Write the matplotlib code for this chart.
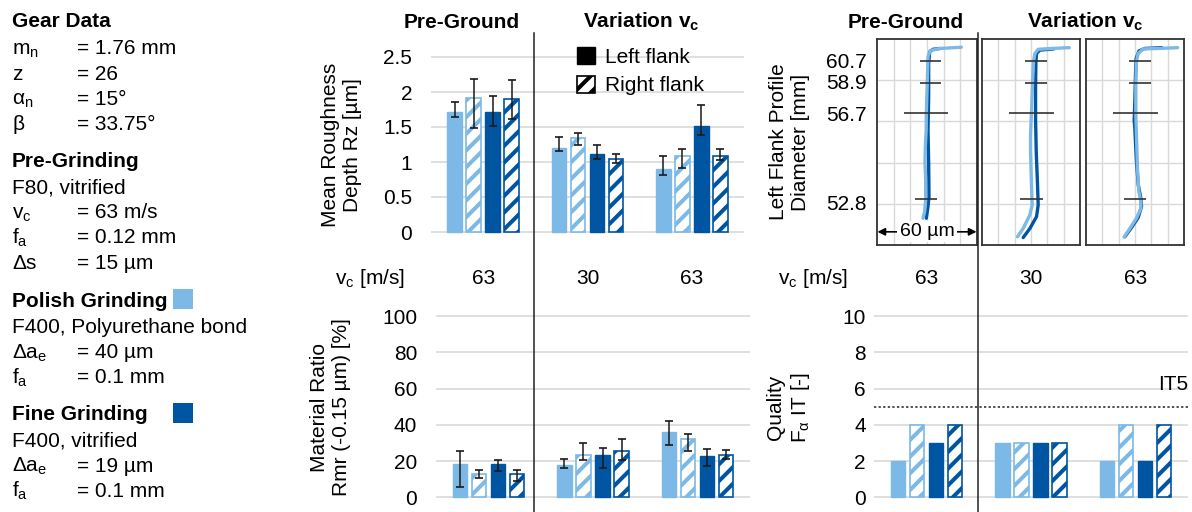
import matplotlib
matplotlib.use('Agg')
import matplotlib.pyplot as plt
from matplotlib.patches import Patch, Rectangle
from matplotlib.lines import Line2D
from matplotlib.transforms import blended_transform_factory
import numpy as np

plt.rcParams['font.family'] = ['Liberation Sans', 'DejaVu Sans']
plt.rcParams['mathtext.fontset'] = 'custom'
plt.rcParams['mathtext.rm'] = 'Liberation Sans'
plt.rcParams['mathtext.it'] = 'Liberation Sans:italic'
plt.rcParams['mathtext.bf'] = 'Liberation Sans:bold'
plt.rcParams['hatch.linewidth'] = 2.9

# ---------------- data ----------------
vc_labels = ['63', '30', '63']
legend_labels = ['Left flank', 'Right flank']

# Mean roughness depth Rz [um]  (bar value, lower / upper end of error bar)
rz_pl = [1.72, 1.20, 0.90]; rz_pl_lo = [1.64, 1.16, 0.81]; rz_pl_hi = [1.86, 1.36, 1.08]
rz_pr = [1.91, 1.34, 1.09]; rz_pr_lo = [1.49, 1.25, 0.92]; rz_pr_hi = [2.19, 1.41, 1.18]
rz_fl = [1.72, 1.11, 1.52]; rz_fl_lo = [1.52, 1.04, 1.39]; rz_fl_hi = [1.95, 1.25, 1.81]
rz_fr = [1.90, 1.04, 1.09]; rz_fr_lo = [1.62, 0.99, 1.03]; rz_fr_hi = [2.17, 1.11, 1.18]

# Material ratio Rmr(-0.15 um) [%]
rmr_pl = [18.4, 17.8, 36.2]; rmr_pl_lo = [5.9, 16.0, 28.7]; rmr_pl_hi = [25.6, 21.3, 42.3]
rmr_pr = [12.7, 23.5, 32.2]; rmr_pr_lo = [10.5, 20.4, 25.4]; rmr_pr_hi = [15.1, 29.8, 34.7]
rmr_fl = [18.2, 23.5, 23.0]; rmr_fl_lo = [14.5, 16.0, 17.1]; rmr_fl_hi = [20.6, 27.2, 26.8]
rmr_fr = [12.7, 25.4, 23.5]; rmr_fr_lo = [9.0, 20.4, 21.1]; rmr_fr_hi = [15.1, 32.0, 26.3]

# Quality F_alpha IT [-]
q_pl = [2, 3, 2]
q_pr = [4, 3, 4]
q_fl = [3, 3, 2]
q_fr = [4, 3, 4]
it_limit = 5

# Left flank profiles (x in um inside 60 um window, y = position along profile)
diam_labels = ['60.7', '58.9', '56.7', '52.8']
diam_label_pos = [4.47, 3.96, 3.20, 1.03]
diam_err_pos = [4.47, 3.92, 3.21, 1.11]
diam_err_center = [[32.1, 32.1, 29.4, 29.4], [33.0, 33.0, 30.3, 30.2], [33.0, 33.0, 30.3, 30.0]]
diam_err_half = [[6.5, 6.5, 13.2, 6.6], [6.85, 6.85, 13.7, 6.9], [6.85, 6.85, 13.5, 6.9]]

prof_light_y = [
    [0.65, 0.81, 1.09, 1.58, 2.0, 2.39, 2.8, 3.2, 3.6, 4.0, 4.57, 4.72, 4.77, 4.80],
    [0.20, 0.40, 0.73, 0.97, 1.46, 2.27, 2.67, 3.24, 3.88, 4.45, 4.65, 4.75, 4.77, 4.79],
    [0.19, 0.40, 0.65, 0.89, 1.05, 1.29, 1.86, 2.67, 3.16, 3.88, 4.45, 4.65, 4.76, 4.77, 4.79],
]
prof_light_x = [
    [27.6, 28.6, 29.2, 29.2, 28.8, 29.0, 29.5, 29.6, 29.9, 30.2, 30.6, 32.0, 37.6, 50.6],
    [21.7, 25.2, 29.3, 30.7, 30.3, 29.7, 29.7, 30.3, 30.9, 31.5, 32.4, 34.4, 42.6, 53.4],
    [23.3, 26.8, 30.9, 33.6, 33.6, 32.4, 31.5, 30.9, 30.5, 30.5, 30.9, 31.9, 35.0, 44.2, 56.1],
]
prof_dark_y = [
    [0.65, 0.93, 1.17, 1.98, 2.79, 3.6, 4.41, 4.69, 4.75, 4.77],
    [0.18, 0.40, 0.69, 0.97, 1.46, 2.27, 3.07, 3.88, 4.45, 4.65, 4.73, 4.76],
    [0.20, 0.42, 0.66, 0.93, 1.13, 1.46, 2.02, 2.83, 3.03, 3.48, 4.13, 4.53, 4.71, 4.77, 4.79],
]
prof_dark_x = [
    [29.6, 30.6, 31.2, 31.0, 30.6, 31.0, 31.0, 31.6, 33.6, 37.6],
    [25.2, 29.3, 33.4, 34.4, 34.0, 33.2, 32.8, 32.8, 33.0, 33.4, 35.4, 44.0],
    [23.8, 27.8, 31.9, 34.0, 33.6, 32.0, 30.9, 29.9, 29.5, 29.9, 30.3, 30.7, 32.4, 36.0, 46.3],
]

# Left info panel text (symbol, value)
gear_rows = [('m$_\\mathrm{n}$', '= 1.76 mm'), ('z', '= 26'), ('α$_\\mathrm{n}$', '= 15°'), ('β', '= 33.75°')]
pre_rows = [('F80, vitrified', None), ('v$_\\mathrm{c}$', '= 63 m/s'), ('f$_\\mathrm{a}$', '= 0.12 mm'), ('Δs', '= 15 µm')]
polish_rows = [('F400, Polyurethane bond', None), ('Δa$_\\mathrm{e}$', '= 40 µm'), ('f$_\\mathrm{a}$', '= 0.1 mm')]
fine_rows = [('F400, vitrified', None), ('Δa$_\\mathrm{e}$', '= 19 µm'), ('f$_\\mathrm{a}$', '= 0.1 mm')]

# ---------------- style ----------------
W, H = 1192, 512
FS = 15
LIGHT = '#7DB9E6'
DARK = '#0055A2'
GRID = '#D9D9D9'
ERR = '#1A1A1A'
OFFS = np.array([-1.5, -0.5, 0.5, 1.5]) * 0.182
BW = 0.138

fig = plt.figure(figsize=(W / 100, H / 100), dpi=100)
fig.patch.set_facecolor('white')


def fx(px):
    return px / W


def fy(py):
    return 1 - py / H


def axes_px(x0, x1, v0px, v0, v1px, v1, lo, hi):
    k = (v0px - v1px) / (v1 - v0)
    ybot = v0px + (v0 - lo) * k
    ytop = v1px - (hi - v1) * k
    ax = fig.add_axes([x0 / W, 1 - ybot / H, (x1 - x0) / W, (ybot - ytop) / H])
    ax.set_ylim(lo, hi)
    ax.set_xlim(-0.5, 2.5)
    return ax


def style_bar_ax(ax, ticks, labels, pad):
    for s in ax.spines.values():
        s.set_visible(False)
    ax.set_yticks(ticks)
    ax.set_yticklabels(labels)
    ax.tick_params(axis='y', length=0, pad=pad, labelsize=FS)
    ax.set_xticks([])
    ax.yaxis.grid(True, color=GRID, lw=1.2)
    ax.set_axisbelow(True)
    ax.patch.set_alpha(0)


def draw_bars(ax, vals, lows=None, highs=None):
    colors = [LIGHT, LIGHT, DARK, DARK]
    hatched = [False, True, False, True]
    for j in range(4):
        x = np.arange(3) + OFFS[j]
        v = np.array(vals[j], dtype=float)
        if hatched[j]:
            ax.bar(x, v, width=BW, facecolor='white', edgecolor=colors[j], hatch='//', lw=1.2, zorder=2)
        else:
            ax.bar(x, v, width=BW, facecolor=colors[j], edgecolor=colors[j], lw=1.0, zorder=2)
        if lows is not None:
            lo = np.array(lows[j]); hi = np.array(highs[j])
            ax.errorbar(x, v, yerr=[v - lo, hi - v], fmt='none', ecolor=ERR, elinewidth=1.1,
                        capsize=2.8, capthick=1.2, zorder=3)


# ---- Rz chart ----
ax_rz = axes_px(431, 744, 232, 0, 57, 2.5, -0.06, 2.62)
style_bar_ax(ax_rz, [0, 0.5, 1, 1.5, 2, 2.5], ['0', '0.5', '1', '1.5', '2', '2.5'], 13.5)
draw_bars(ax_rz, [rz_pl, rz_pr, rz_fl, rz_fr],
          [rz_pl_lo, rz_pr_lo, rz_fl_lo, rz_fr_lo], [rz_pl_hi, rz_pr_hi, rz_fl_hi, rz_fr_hi])

# ---- Rmr chart ----
ax_rmr = axes_px(436, 750, 497.3, 0, 316, 100, -2.5, 104)
style_bar_ax(ax_rmr, [0, 20, 40, 60, 80, 100], ['0', '20', '40', '60', '80', '100'], 13.5)
draw_bars(ax_rmr, [rmr_pl, rmr_pr, rmr_fl, rmr_fr],
          [rmr_pl_lo, rmr_pr_lo, rmr_fl_lo, rmr_fr_lo], [rmr_pl_hi, rmr_pr_hi, rmr_fl_hi, rmr_fr_hi])

# ---- Quality chart ----
ax_q = axes_px(874, 1188, 497.3, 0, 316, 10, -0.25, 10.4)
style_bar_ax(ax_q, [0, 2, 4, 6, 8, 10], ['0', '2', '4', '6', '8', '10'], 5.8)
draw_bars(ax_q, [q_pl, q_pr, q_fl, q_fr])
ax_q.axhline(it_limit, color='#222222', ls=(0, (1.5, 1.5)), lw=1.1, zorder=1)
ax_q.text(2.5, 6.2, 'IT5', ha='right', va='center', fontsize=FS)

# ---- vc row ----
for ax, lab_x in ((ax_rz, 405), (ax_q, 848)):
    tr = blended_transform_factory(ax.transData, fig.transFigure)
    for i, lab in enumerate(vc_labels):
        ax.text(i, fy(278), lab, transform=tr, ha='center', va='center', fontsize=FS)
    fig.text(fx(lab_x), fy(278), 'v$_\\mathrm{c}$ [m/s]', ha='right', va='center', fontsize=FS)

# ---- axis labels ----
fig.text(fx(342), fy(145), 'Mean Roughness\nDepth Rz [µm]', rotation=90, ha='center', va='center',
         fontsize=FS, linespacing=1.2, multialignment='center')
fig.text(fx(331), fy(407), 'Material Ratio\nRmr (-0.15 µm) [%]', rotation=90, ha='center', va='center',
         fontsize=FS, linespacing=1.2, multialignment='center')
fig.text(fx(789), fy(407), 'Quality\nF$_\\mathrm{α}$ IT [-]', rotation=90, ha='center', va='center',
         fontsize=FS, linespacing=1.2, multialignment='center')
fig.text(fx(790), fy(142), 'Left Flank Profile\nDiameter [mm]', rotation=90, ha='center', va='center',
         fontsize=FS, linespacing=1.2, multialignment='center')

# ---- titles ----
for xc, t in ((462, 'Pre-Ground'), (641, 'Variation v$_\\mathbf{c}$'),
              (906, 'Pre-Ground'), (1085, 'Variation v$_\\mathbf{c}$')):
    fig.text(fx(xc), fy(27.5), t, ha='center', va='baseline', fontsize=FS, fontweight='bold')

# ---- legend ----
handles = [Patch(facecolor='black', edgecolor='black'),
           Patch(facecolor='white', edgecolor='black', hatch='//', lw=1.2)]
fig.legend(handles, legend_labels, loc='upper left', bbox_to_anchor=(fx(577), fy(47)), frameon=False,
           fontsize=FS, handlelength=0.85, handleheight=0.85, handletextpad=0.5,
           labelspacing=0.45, borderpad=0, borderaxespad=0)

# ---- profile panels ----
boxes = [(877, 977), (982, 1080), (1086, 1184)]
for i, (x0, x1) in enumerate(boxes):
    ax = fig.add_axes([fx(x0), fy(245), (x1 - x0) / W, (245 - 39) / H])
    ax.set_xlim(0, 60)
    ax.set_ylim(0, 5)
    ax.set_xticks([])
    ax.set_xticks([10, 20, 30, 40, 50], minor=True)
    ax.set_yticks([1, 2, 3, 4], minor=True)
    ax.grid(True, which='minor', color=GRID, lw=1.0)
    ax.tick_params(which='both', length=0)
    if i == 0:
        ax.set_yticks(diam_label_pos)
        ax.set_yticklabels(diam_labels)
        ax.tick_params(axis='y', pad=7.2, labelsize=FS)
    else:
        ax.set_yticks([])
    for s in ax.spines.values():
        s.set_color('#333333')
        s.set_linewidth(1.3)
    ax.plot(prof_dark_x[i], prof_dark_y[i], color=DARK, lw=2.4, solid_capstyle='round',
            solid_joinstyle='round', zorder=3)
    ax.plot(prof_light_x[i], prof_light_y[i], color=LIGHT, lw=2.4, solid_capstyle='round',
            solid_joinstyle='round', zorder=3)
    c = np.array(diam_err_center[i]); h = np.array(diam_err_half[i])
    ax.hlines(diam_err_pos, c - h, c + h, color='#333333', lw=1.2, zorder=4)
    if i == 0:
        ax.annotate('', xy=(0.3, 0.32), xytext=(59.7, 0.32),
                    arrowprops=dict(arrowstyle='<|-|>', color='black', lw=1.2,
                                    shrinkA=0, shrinkB=0, mutation_scale=11), zorder=5)
        ax.text(30, 0.32, '60 µm', ha='center', va='center', fontsize=14, zorder=6,
                bbox=dict(facecolor='white', edgecolor='none', pad=1.5))

# ---- separators ----
for xs in (534, 978):
    fig.add_artist(Line2D([fx(xs), fx(xs)], [fy(33), fy(512)], color='#222222', lw=1.1))

# ---- left info panel ----
LX, EQX = 12, 77


def row(y, a, b=None, bold=False):
    fig.text(fx(LX), fy(y), a, ha='left', va='baseline', fontsize=FS,
             fontweight='bold' if bold else 'normal')
    if b is not None:
        fig.text(fx(EQX), fy(y), b, ha='left', va='baseline', fontsize=FS)


row(27.3, 'Gear Data', bold=True)
for k, (a, b) in enumerate(gear_rows):
    row(54.3 + 25.3 * k, a, b)
row(167, 'Pre-Grinding', bold=True)
for k, (a, b) in enumerate(pre_rows):
    row(193 + 25.2 * k, a, b)
row(306.7, 'Polish Grinding', bold=True)
for k, (a, b) in enumerate(polish_rows):
    row(333 + 25.2 * k, a, b)
row(420, 'Fine Grinding', bold=True)
for k, (a, b) in enumerate(fine_rows):
    row(446.7 + 25.2 * k, a, b)

fig.add_artist(Rectangle((fx(173), fy(309)), 20 / W, 20 / H, facecolor=LIGHT, edgecolor='none',
                         transform=fig.transFigure))
fig.add_artist(Rectangle((fx(173), fy(423)), 20 / W, 20 / H, facecolor=DARK, edgecolor='none',
                         transform=fig.transFigure))

fig.savefig('out.png', dpi=100, facecolor='white')
